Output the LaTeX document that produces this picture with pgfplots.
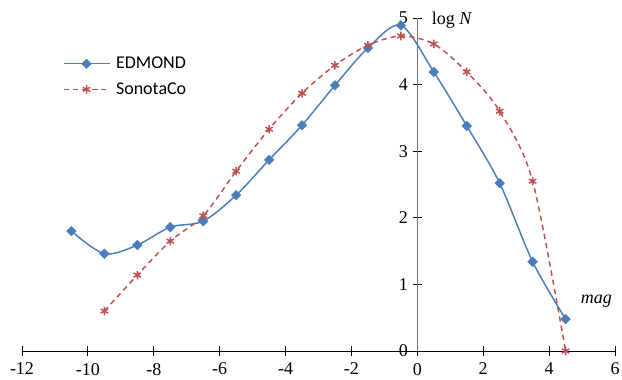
\documentclass[border=0pt]{standalone}
\usepackage{pgfplots}
\pgfplotsset{compat=1.18}
\usepackage{fontspec}
\setmainfont{Liberation Serif}
\newfontfamily\legfont{Carlito}
\definecolor{edblue}{RGB}{74,126,187}
\definecolor{sored}{RGB}{192,80,77}
\begin{document}
\begin{tikzpicture}
\begin{axis}[
  scale only axis,
  width=444.75pt, height=249.75pt,
  xmin=-12, xmax=6, ymin=0, ymax=5,
  axis lines=middle,
  axis line style={-},
  x axis line style={black},
  y axis line style={black!55},
  xtick={-12,-10,...,6},
  ytick={0,1,...,5},
  hide obscured x ticks=false,
  hide obscured y ticks=false,
  tick align=center,
  major tick length=7pt,
  tick style={black, line width=0.6pt},
  /pgf/number format/assume math mode=true,
  ticklabel style={font=\fontsize{13.5}{15}\selectfont},
  xticklabel style={yshift=-2pt},
  legend style={at={(0.062,0.90)}, anchor=north west, draw=none, fill=none,
    font=\legfont\fontsize{13.5}{16}\selectfont, row sep=5pt,
    nodes={inner xsep=4.5pt}},
  legend cell align=left,
  legend image code/.code={\draw[mark repeat=2,mark phase=2] plot coordinates {(0cm,0cm) (0.6cm,0cm) (1.2cm,0cm)};},
  clip=false,
]
\addplot[color=edblue, line width=1.1pt, smooth, tension=0.5, mark=square*, mark size=2.2pt, mark options={solid, fill=edblue, rotate=45}]
coordinates {
(-10.5,1.80) (-9.5,1.46) (-8.5,1.59) (-7.5,1.86) (-6.5,1.95) (-5.5,2.34)
(-4.5,2.87) (-3.5,3.39) (-2.5,3.99) (-1.5,4.55) (-0.5,4.89) (0.5,4.19)
(1.5,3.38) (2.5,2.52) (3.5,1.34) (4.5,0.48)
};
\addlegendentry{EDMOND}
\addplot[color=sored, line width=1.1pt, dash pattern=on 4pt off 3pt, smooth, tension=0.5, mark=asterisk, mark size=3.2pt, mark options={solid}]
coordinates {
(-9.5,0.60) (-8.5,1.14) (-7.5,1.65) (-6.5,2.03) (-5.5,2.70) (-4.5,3.33)
(-3.5,3.87) (-2.5,4.29) (-1.5,4.59) (-0.5,4.73) (0.5,4.61) (1.5,4.19)
(2.5,3.60) (3.5,2.55) (4.5,0.0)
};
\addlegendentry{SonotaCo}
\node[anchor=west, font=\fontsize{13.5}{15}\selectfont] at (axis cs:0.3,4.97) {log \textit{N}};
\node[anchor=east, font=\itshape\fontsize{13.5}{15}\selectfont] at (axis cs:6.05,0.75) {mag};
\end{axis}
\pgfresetboundingbox
\path[use as bounding box] (-16.5pt,-21pt) rectangle (450pt,263.25pt);
\end{tikzpicture}
\end{document}
